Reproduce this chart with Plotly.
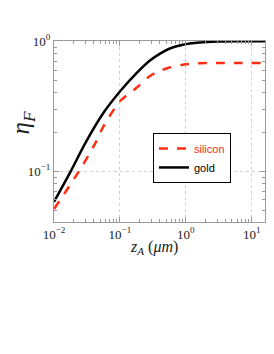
import plotly.graph_objects as go

# data
z_gold = [0.01, 0.018, 0.03, 0.056, 0.1, 0.18, 0.285, 0.4, 0.57, 0.9, 1.6, 3, 6, 16]
eta_gold = [0.058, 0.1, 0.165, 0.28, 0.41, 0.57, 0.71, 0.80, 0.88, 0.94, 0.977, 0.995, 1.0, 1.0]
z_si = [0.01, 0.024, 0.042, 0.056, 0.1, 0.18, 0.285, 0.4, 0.55, 0.9, 1.6, 3, 16]
eta_si = [0.051, 0.1, 0.163, 0.22, 0.345, 0.44, 0.54, 0.59, 0.625, 0.66, 0.677, 0.68, 0.68]

x_tickvals = [0.01, 0.1, 1, 10]
x_ticktext = ["10<sup>−2</sup>", "10<sup>−1</sup>", "10<sup>0</sup>", "10<sup>1</sup>"]
x_minor = [0.02, 0.03, 0.04, 0.05, 0.06, 0.07, 0.08, 0.09,
           0.2, 0.3, 0.4, 0.5, 0.6, 0.7, 0.8, 0.9,
           2, 3, 4, 5, 6, 7, 8, 9]
y_tickvals = [0.1, 1]
y_ticktext = ["10<sup>−1</sup>", "10<sup>0</sup>"]
y_minor = [0.05, 0.06, 0.07, 0.08, 0.09, 0.2, 0.3, 0.4, 0.5, 0.6, 0.7, 0.8, 0.9]

RED = "rgb(255,45,20)"
serif = "Liberation Serif"

fig = go.Figure()
fig.add_trace(go.Scatter(
    x=z_si, y=eta_si, mode="lines", line_shape="spline",
    line=dict(color=RED, width=2.5, dash="dash", smoothing=0.8),
    name=f"<span style='color:{RED}'>silicon</span>"))
fig.add_trace(go.Scatter(
    x=z_gold, y=eta_gold, mode="lines", line_shape="spline",
    line=dict(color="black", width=2.5, smoothing=0.8),
    name="gold"))

axis_common = dict(
    type="log", showline=True, linecolor="#9a9a9a", linewidth=1, mirror="ticks",
    ticks="inside", ticklen=5, tickcolor="#9a9a9a",
    showgrid=True, gridcolor="#d0d0d0", griddash="dot", gridwidth=1,
    zeroline=False, automargin=False,
    tickfont=dict(family=serif, size=13, color="#222"),
)

fig.update_layout(
    width=274, height=354,
    # the page body adds an 8px offset; margins compensate for it
    margin=dict(l=46, r=17, t=33, b=140),
    paper_bgcolor="white", plot_bgcolor="white",
    showlegend=True,
    legend=dict(x=0.469, y=0.492, xanchor="left", yanchor="top",
                bgcolor="white", bordercolor="black", borderwidth=1,
                font=dict(family="Liberation Sans", size=11, color="black"),
                itemwidth=30, tracegroupgap=0),
    xaxis=dict(axis_common, range=[-2, 1.2],
               tickmode="array", tickvals=x_tickvals, ticktext=x_ticktext,
               minor=dict(tickmode="array", tickvals=x_minor, ticks="inside",
                          ticklen=3, tickcolor="#9a9a9a", showgrid=False)),
    yaxis=dict(axis_common, range=[-1.392, 0.002],
               tickmode="array", tickvals=y_tickvals, ticktext=y_ticktext,
               minor=dict(tickmode="array", tickvals=y_minor, ticks="inside",
                          ticklen=3, tickcolor="#9a9a9a", showgrid=False)),
    annotations=[
        dict(text="<i>z<sub>A</sub></i> (<i>μm</i>)", xref="paper", yref="paper",
             x=0.475, y=-0.142, xanchor="center", yanchor="middle", showarrow=False,
             font=dict(family=serif, size=16, color="#222")),
        dict(text="<i>η<sub>F</sub></i>", xref="paper", yref="paper",
             x=-0.145, y=0.547, xanchor="center", yanchor="middle", showarrow=False,
             textangle=-90, font=dict(family=serif, size=25, color="#222")),
    ],
)

fig.write_html("out.html")
